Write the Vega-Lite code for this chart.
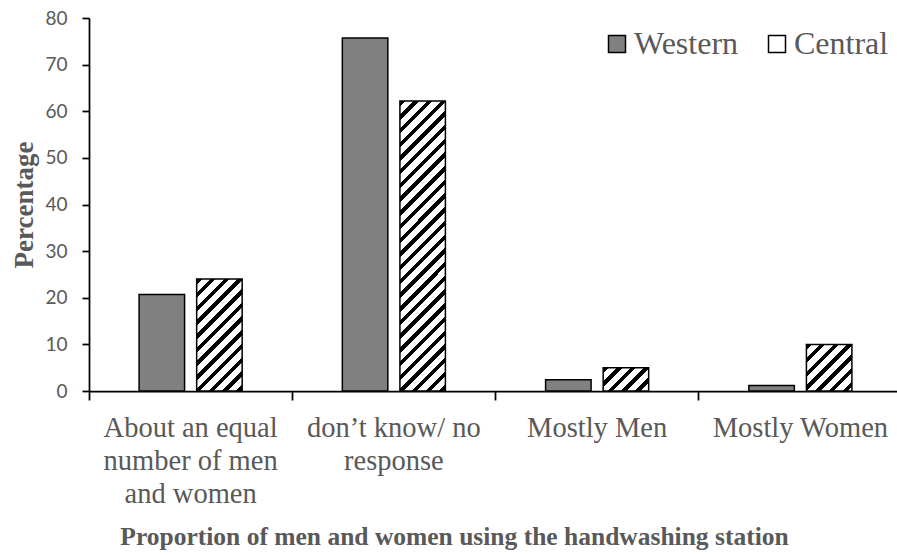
{
  "$schema": "https://vega.github.io/schema/vega-lite/v6.json",
  "autosize": "none",
  "padding": {"left": 89, "top": 18, "right": 0, "bottom": 164},
  "width": 808,
  "height": 373,
  "background": "white",
  "config": {"font": "Liberation Serif", "view": {"stroke": null}},
  "data": {
    "values": [
      {"cat": "About an equal number of men and women", "region": "Western", "value": 20.7},
      {"cat": "About an equal number of men and women", "region": "Central", "value": 24.0},
      {"cat": "don’t know/ no response", "region": "Western", "value": 75.7},
      {"cat": "don’t know/ no response", "region": "Central", "value": 62.2},
      {"cat": "Mostly Men", "region": "Western", "value": 2.4},
      {"cat": "Mostly Men", "region": "Central", "value": 5.0},
      {"cat": "Mostly Women", "region": "Western", "value": 1.2},
      {"cat": "Mostly Women", "region": "Central", "value": 10.0}
    ]
  },
  "mark": {"type": "bar", "stroke": "#000000", "strokeWidth": 1.5},
  "encoding": {
    "x": {
      "field": "cat", "type": "nominal",
      "sort": ["About an equal number of men and women", "don’t know/ no response", "Mostly Men", "Mostly Women"],
      "scale": {"paddingInner": 0, "paddingOuter": 0, "range": [0, 813]},
      "axis": {
        "title": "Proportion of men and women using the handwashing station",
        "bandPosition": 0,
        "labelAngle": 0,
        "labelExpr": "datum.value === 'About an equal number of men and women' ? ['About an equal', 'number of men', 'and women'] : (datum.value === 'don’t know/ no response' ? ['don’t know/ no', 'response'] : datum.value)",
        "labelFont": "Liberation Serif", "labelFontSize": 28.5, "labelColor": "#595959",
        "labelLineHeight": 33, "labelPadding": 13, "labelLimit": 500, "labelOverlap": false,
        "tickSize": 9, "tickColor": "#000000", "tickWidth": 1.75,
        "domainColor": "#000000", "domainWidth": 1.75,
        "titleFont": "Liberation Serif", "titleFontSize": 25.5, "titleFontWeight": "bold", "titleColor": "#595959",
        "titlePadding": 17, "titleX": 365
      }
    },
    "xOffset": {
      "field": "region", "type": "nominal", "sort": ["Western", "Central"],
      "scale": {"paddingInner": 0.21, "paddingOuter": 0.87}
    },
    "y": {
      "field": "value", "type": "quantitative",
      "scale": {"domain": [0, 80]},
      "axis": {
        "values": [0, 10, 20, 30, 40, 50, 60, 70, 80],
        "title": "Percentage", "grid": false,
        "domainColor": "#000000", "domainWidth": 1.75,
        "tickColor": "#000000", "tickWidth": 1.75, "tickSize": 7,
        "labelFont": "Lato", "labelFontSize": 19, "labelColor": "#595959", "labelPadding": 15,
        "titleFont": "Liberation Serif", "titleFontSize": 27, "titleFontWeight": "bold", "titleColor": "#595959",
        "titlePadding": 6
      }
    },
    "fill": {
      "condition": [
        {"test": "datum.region === 'Central' && datum.cat === 'About an equal number of men and women'",
         "value": {"gradient": "linear", "x1": 0, "y1": 0, "x2": 0.4908, "y2": 1.2071, "stops": [
          {"offset": 0, "color": "#000"}, {"offset": 0.0348, "color": "#000"}, {"offset": 0.0348, "color": "#fff"}, {"offset": 0.0870, "color": "#fff"},
          {"offset": 0.0870, "color": "#000"}, {"offset": 0.1219, "color": "#000"}, {"offset": 0.1219, "color": "#fff"}, {"offset": 0.1741, "color": "#fff"},
          {"offset": 0.1741, "color": "#000"}, {"offset": 0.2089, "color": "#000"}, {"offset": 0.2089, "color": "#fff"}, {"offset": 0.2611, "color": "#fff"},
          {"offset": 0.2611, "color": "#000"}, {"offset": 0.2959, "color": "#000"}, {"offset": 0.2959, "color": "#fff"}, {"offset": 0.3482, "color": "#fff"},
          {"offset": 0.3482, "color": "#000"}, {"offset": 0.3830, "color": "#000"}, {"offset": 0.3830, "color": "#fff"}, {"offset": 0.4352, "color": "#fff"},
          {"offset": 0.4352, "color": "#000"}, {"offset": 0.4700, "color": "#000"}, {"offset": 0.4700, "color": "#fff"}, {"offset": 0.5222, "color": "#fff"},
          {"offset": 0.5222, "color": "#000"}, {"offset": 0.5571, "color": "#000"}, {"offset": 0.5571, "color": "#fff"}, {"offset": 0.6093, "color": "#fff"},
          {"offset": 0.6093, "color": "#000"}, {"offset": 0.6441, "color": "#000"}, {"offset": 0.6441, "color": "#fff"}, {"offset": 0.6963, "color": "#fff"},
          {"offset": 0.6963, "color": "#000"}, {"offset": 0.7311, "color": "#000"}, {"offset": 0.7311, "color": "#fff"}, {"offset": 0.7834, "color": "#fff"},
          {"offset": 0.7834, "color": "#000"}, {"offset": 0.8182, "color": "#000"}, {"offset": 0.8182, "color": "#fff"}, {"offset": 0.8704, "color": "#fff"},
          {"offset": 0.8704, "color": "#000"}, {"offset": 0.9052, "color": "#000"}, {"offset": 0.9052, "color": "#fff"}, {"offset": 0.9574, "color": "#fff"},
          {"offset": 0.9574, "color": "#000"}, {"offset": 0.9923, "color": "#000"}, {"offset": 0.9923, "color": "#fff"}, {"offset": 1, "color": "#fff"}
         ]}},
        {"test": "datum.region === 'Central' && datum.cat === 'don’t know/ no response'",
         "value": {"gradient": "linear", "x1": 0, "y1": 0, "x2": 0.1773, "y2": 1.1292, "stops": [
          {"offset": 0, "color": "#000"}, {"offset": 0.0163, "color": "#000"}, {"offset": 0.0163, "color": "#fff"}, {"offset": 0.0409, "color": "#fff"},
          {"offset": 0.0409, "color": "#000"}, {"offset": 0.0572, "color": "#000"}, {"offset": 0.0572, "color": "#fff"}, {"offset": 0.0817, "color": "#fff"},
          {"offset": 0.0817, "color": "#000"}, {"offset": 0.0981, "color": "#000"}, {"offset": 0.0981, "color": "#fff"}, {"offset": 0.1226, "color": "#fff"},
          {"offset": 0.1226, "color": "#000"}, {"offset": 0.1389, "color": "#000"}, {"offset": 0.1389, "color": "#fff"}, {"offset": 0.1634, "color": "#fff"},
          {"offset": 0.1634, "color": "#000"}, {"offset": 0.1798, "color": "#000"}, {"offset": 0.1798, "color": "#fff"}, {"offset": 0.2043, "color": "#fff"},
          {"offset": 0.2043, "color": "#000"}, {"offset": 0.2206, "color": "#000"}, {"offset": 0.2206, "color": "#fff"}, {"offset": 0.2452, "color": "#fff"},
          {"offset": 0.2452, "color": "#000"}, {"offset": 0.2615, "color": "#000"}, {"offset": 0.2615, "color": "#fff"}, {"offset": 0.2860, "color": "#fff"},
          {"offset": 0.2860, "color": "#000"}, {"offset": 0.3024, "color": "#000"}, {"offset": 0.3024, "color": "#fff"}, {"offset": 0.3269, "color": "#fff"},
          {"offset": 0.3269, "color": "#000"}, {"offset": 0.3432, "color": "#000"}, {"offset": 0.3432, "color": "#fff"}, {"offset": 0.3677, "color": "#fff"},
          {"offset": 0.3677, "color": "#000"}, {"offset": 0.3841, "color": "#000"}, {"offset": 0.3841, "color": "#fff"}, {"offset": 0.4086, "color": "#fff"},
          {"offset": 0.4086, "color": "#000"}, {"offset": 0.4249, "color": "#000"}, {"offset": 0.4249, "color": "#fff"}, {"offset": 0.4495, "color": "#fff"},
          {"offset": 0.4495, "color": "#000"}, {"offset": 0.4658, "color": "#000"}, {"offset": 0.4658, "color": "#fff"}, {"offset": 0.4903, "color": "#fff"},
          {"offset": 0.4903, "color": "#000"}, {"offset": 0.5067, "color": "#000"}, {"offset": 0.5067, "color": "#fff"}, {"offset": 0.5312, "color": "#fff"},
          {"offset": 0.5312, "color": "#000"}, {"offset": 0.5475, "color": "#000"}, {"offset": 0.5475, "color": "#fff"}, {"offset": 0.5720, "color": "#fff"},
          {"offset": 0.5720, "color": "#000"}, {"offset": 0.5884, "color": "#000"}, {"offset": 0.5884, "color": "#fff"}, {"offset": 0.6129, "color": "#fff"},
          {"offset": 0.6129, "color": "#000"}, {"offset": 0.6292, "color": "#000"}, {"offset": 0.6292, "color": "#fff"}, {"offset": 0.6537, "color": "#fff"},
          {"offset": 0.6537, "color": "#000"}, {"offset": 0.6701, "color": "#000"}, {"offset": 0.6701, "color": "#fff"}, {"offset": 0.6946, "color": "#fff"},
          {"offset": 0.6946, "color": "#000"}, {"offset": 0.7110, "color": "#000"}, {"offset": 0.7110, "color": "#fff"}, {"offset": 0.7355, "color": "#fff"},
          {"offset": 0.7355, "color": "#000"}, {"offset": 0.7518, "color": "#000"}, {"offset": 0.7518, "color": "#fff"}, {"offset": 0.7763, "color": "#fff"},
          {"offset": 0.7763, "color": "#000"}, {"offset": 0.7927, "color": "#000"}, {"offset": 0.7927, "color": "#fff"}, {"offset": 0.8172, "color": "#fff"},
          {"offset": 0.8172, "color": "#000"}, {"offset": 0.8335, "color": "#000"}, {"offset": 0.8335, "color": "#fff"}, {"offset": 0.8580, "color": "#fff"},
          {"offset": 0.8580, "color": "#000"}, {"offset": 0.8744, "color": "#000"}, {"offset": 0.8744, "color": "#fff"}, {"offset": 0.8989, "color": "#fff"},
          {"offset": 0.8989, "color": "#000"}, {"offset": 0.9152, "color": "#000"}, {"offset": 0.9152, "color": "#fff"}, {"offset": 0.9398, "color": "#fff"},
          {"offset": 0.9398, "color": "#000"}, {"offset": 0.9561, "color": "#000"}, {"offset": 0.9561, "color": "#fff"}, {"offset": 0.9806, "color": "#fff"},
          {"offset": 0.9806, "color": "#000"}, {"offset": 0.9970, "color": "#000"}, {"offset": 0.9970, "color": "#fff"}, {"offset": 1, "color": "#fff"}
         ]}},
        {"test": "datum.region === 'Central' && datum.cat === 'Mostly Men'",
         "value": {"gradient": "linear", "x1": 0, "y1": 0, "x2": 1.1980, "y2": 0.6135, "stops": [
          {"offset": 0, "color": "#000"}, {"offset": 0.0797, "color": "#000"}, {"offset": 0.0797, "color": "#fff"}, {"offset": 0.1991, "color": "#fff"},
          {"offset": 0.1991, "color": "#000"}, {"offset": 0.2788, "color": "#000"}, {"offset": 0.2788, "color": "#fff"}, {"offset": 0.3983, "color": "#fff"},
          {"offset": 0.3983, "color": "#000"}, {"offset": 0.4779, "color": "#000"}, {"offset": 0.4779, "color": "#fff"}, {"offset": 0.5974, "color": "#fff"},
          {"offset": 0.5974, "color": "#000"}, {"offset": 0.6770, "color": "#000"}, {"offset": 0.6770, "color": "#fff"}, {"offset": 0.7965, "color": "#fff"},
          {"offset": 0.7965, "color": "#000"}, {"offset": 0.8762, "color": "#000"}, {"offset": 0.8762, "color": "#fff"}, {"offset": 0.9956, "color": "#fff"},
          {"offset": 0.9956, "color": "#000"}, {"offset": 1, "color": "#000"}
         ]}},
        {"test": "datum.region === 'Central' && datum.cat === 'Mostly Women'",
         "value": {"gradient": "linear", "x1": 0, "y1": 0, "x2": 0.9879, "y2": 1.0118, "stops": [
          {"offset": 0, "color": "#000"}, {"offset": 0.0595, "color": "#000"}, {"offset": 0.0595, "color": "#fff"}, {"offset": 0.1488, "color": "#fff"},
          {"offset": 0.1488, "color": "#000"}, {"offset": 0.2083, "color": "#000"}, {"offset": 0.2083, "color": "#fff"}, {"offset": 0.2975, "color": "#fff"},
          {"offset": 0.2975, "color": "#000"}, {"offset": 0.3570, "color": "#000"}, {"offset": 0.3570, "color": "#fff"}, {"offset": 0.4463, "color": "#fff"},
          {"offset": 0.4463, "color": "#000"}, {"offset": 0.5058, "color": "#000"}, {"offset": 0.5058, "color": "#fff"}, {"offset": 0.5950, "color": "#fff"},
          {"offset": 0.5950, "color": "#000"}, {"offset": 0.6545, "color": "#000"}, {"offset": 0.6545, "color": "#fff"}, {"offset": 0.7438, "color": "#fff"},
          {"offset": 0.7438, "color": "#000"}, {"offset": 0.8033, "color": "#000"}, {"offset": 0.8033, "color": "#fff"}, {"offset": 0.8925, "color": "#fff"},
          {"offset": 0.8925, "color": "#000"}, {"offset": 0.9520, "color": "#000"}, {"offset": 0.9520, "color": "#fff"}, {"offset": 1, "color": "#fff"}
         ]}}
      ],
      "field": "region", "type": "nominal",
      "scale": {"domain": ["Western", "Central"], "range": ["#808080", "#ffffff"]},
      "legend": {
        "title": null, "orient": "none", "direction": "horizontal",
        "legendX": 512, "legendY": 10, "padding": 0,
        "symbolType": "square", "symbolSize": 289,
        "symbolStrokeColor": "#000000", "symbolStrokeWidth": 1.5, "symbolOpacity": 1,
        "labelFont": "Liberation Serif", "labelFontSize": 32, "labelColor": "#595959",
        "labelOffset": 1, "columnPadding": 22, "labelLimit": 300
      }
    }
  }
}
